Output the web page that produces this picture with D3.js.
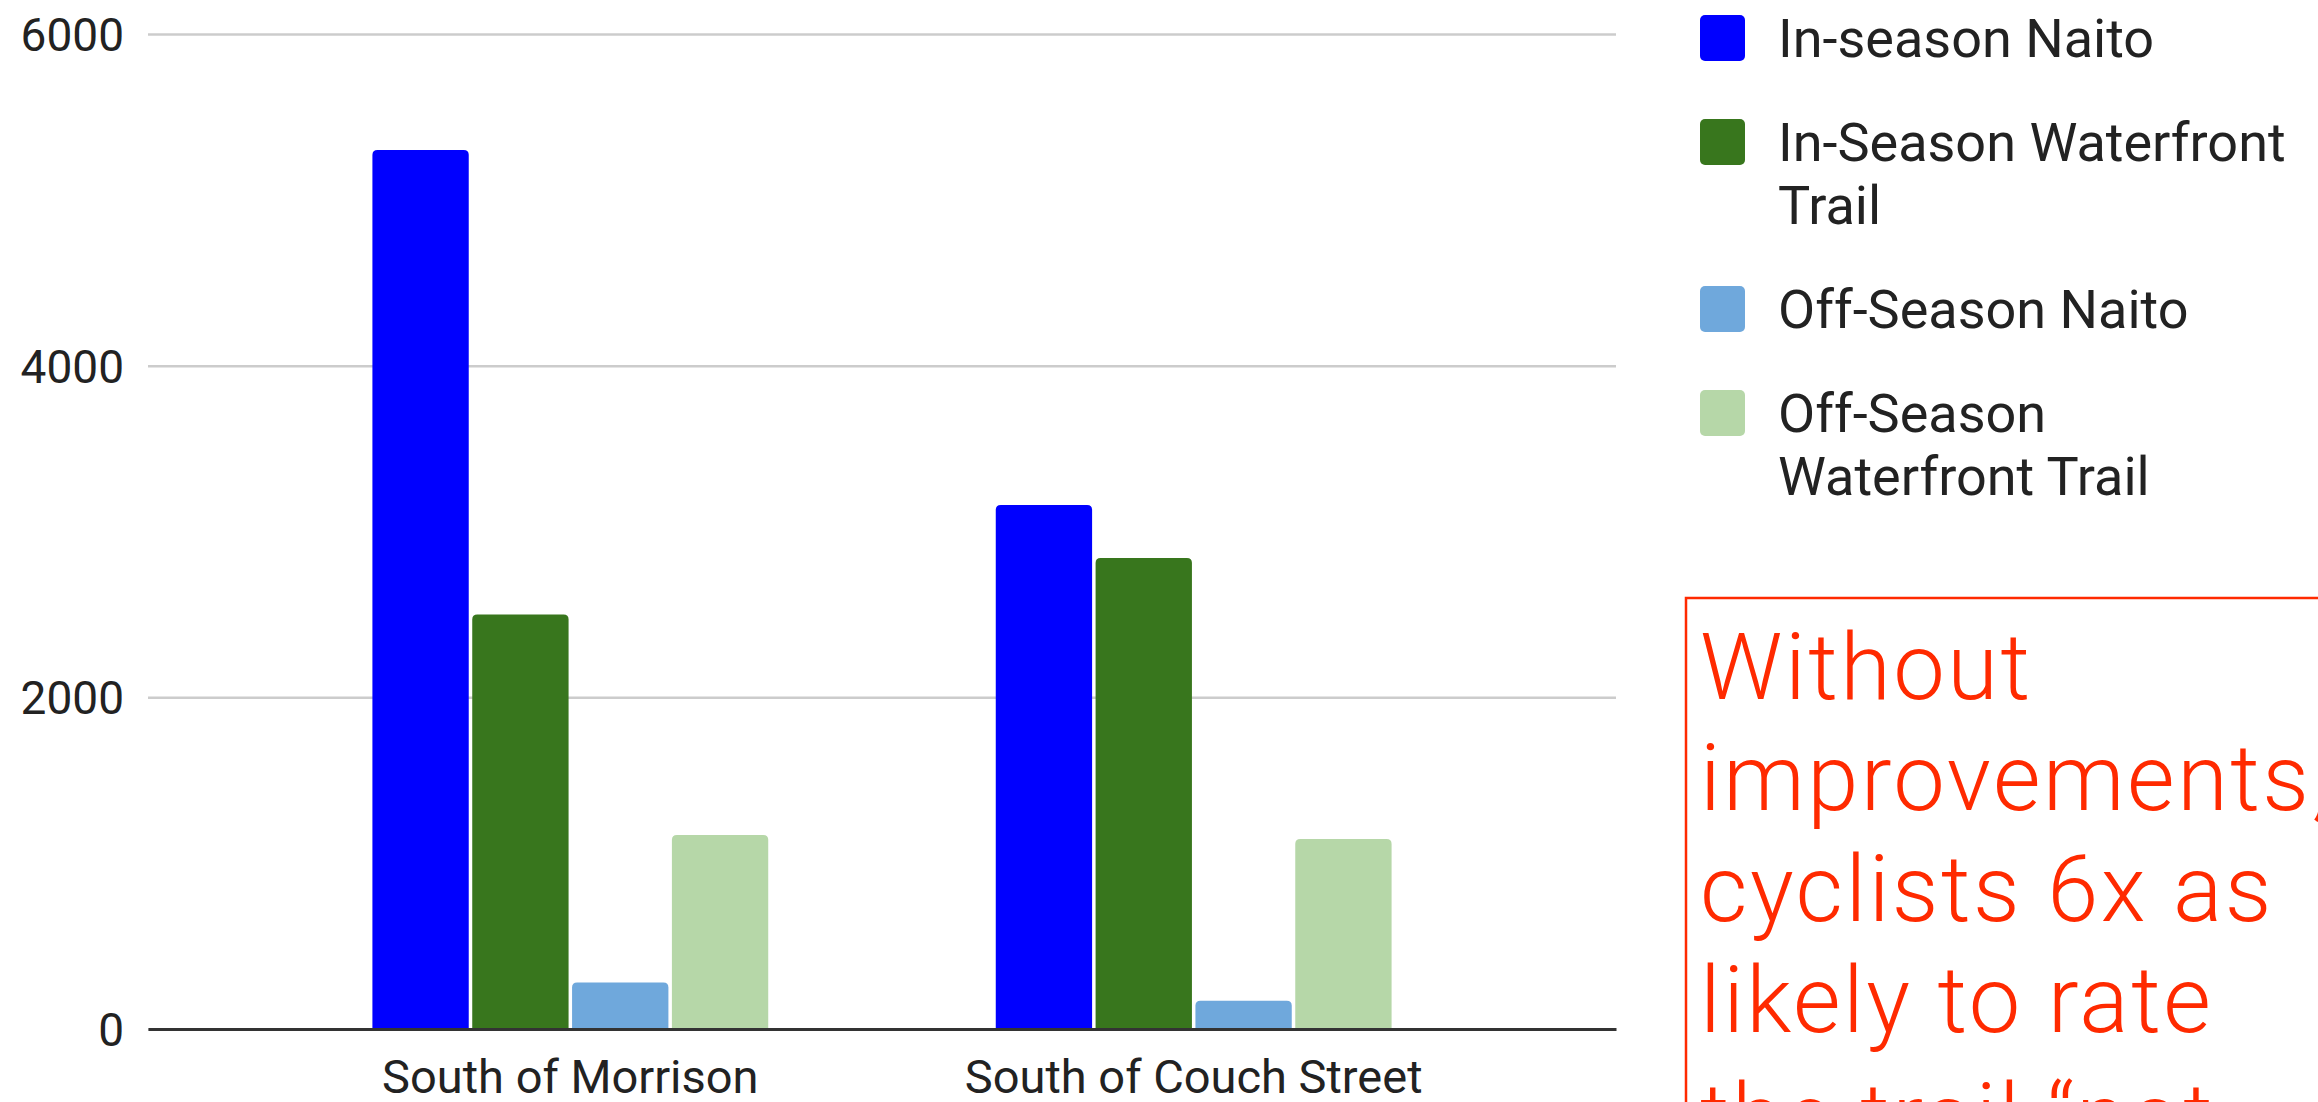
<html>
<head>
    <title>Naito vs Waterfront Trail counts</title>
    <script src="https://d3js.org/d3.v7.min.js" charset="utf-8"></script>
    <style>
        body { margin: 0; background: #fff; }
    </style>
</head>
<body>
<script>

    const width = 2318;
    const height = 1102;

    // data
    const categories = ["South of Morrison", "South of Couch Street"];
    const seriesNames = ["In-season Naito", "In-Season Waterfront Trail", "Off-Season Naito", "Off-Season Waterfront Trail"];
    const inSeasonNaito = [5300, 3160];
    const inSeasonTrail = [2500, 2840];
    const offSeasonNaito = [280, 170];
    const offSeasonTrail = [1170, 1145];
    const yTicks = [0, 2000, 4000, 6000];
    const colors = ["#0000ff", "#38761d", "#6fa8dc", "#b6d7a8"];
    const legendLines = [["In-season Naito"], ["In-Season Waterfront", "Trail"], ["Off-Season Naito"], ["Off-Season", "Waterfront Trail"]];
    const noteLines = ["Without", "improvements,", "cyclists 6x as", "likely to rate", "the trail \u201cnot"];

    const series = [inSeasonNaito, inSeasonTrail, offSeasonNaito, offSeasonTrail];

    const plot = {left: 148, right: 1616, top: 34, bottom: 1029};

    const svg = d3.select("body").append("svg")
        .attr("width", width)
        .attr("height", height);

    const x0 = d3.scaleBand()
        .domain(categories)
        .range([plot.left, plot.right])
        .paddingInner(0.365)
        .paddingOuter(0.36);

    const x1 = d3.scaleBand()
        .domain(d3.range(seriesNames.length))
        .range([0, x0.bandwidth()])
        .paddingInner(0.035);

    const y = d3.scaleLinear()
        .domain([0, 6000])
        .range([plot.bottom, plot.top]);

    // grid + y labels
    const yAxis = svg.append("g")
        .attr("transform", `translate(${plot.left},0)`)
        .call(d3.axisLeft(y).tickValues(yTicks).tickSize(-(plot.right - plot.left)).tickPadding(24).tickFormat(d3.format("d")));
    yAxis.select(".domain").remove();
    yAxis.selectAll(".tick line")
        .attr("stroke", "#cccccc")
        .attr("stroke-width", 2.5);
    yAxis.selectAll(".tick text")
        .attr("font-family", "Roboto, sans-serif")
        .attr("font-size", 46)
        .attr("fill", "#222")
        .attr("dy", "0.36em");

    // bars, rounded at the top only
    const barPath = (x, yTop, w, yBase, r) => {
        r = Math.min(r, (yBase - yTop) / 2);
        return `M${x},${yBase}V${yTop + r}Q${x},${yTop} ${x + r},${yTop}H${x + w - r}Q${x + w},${yTop} ${x + w},${yTop + r}V${yBase}Z`;
    };

    const groups = svg.append("g")
        .selectAll("g")
        .data(categories)
        .join("g")
        .attr("transform", d => `translate(${x0(d)},0)`);

    groups.selectAll("path")
        .data((d, i) => series.map((s, k) => ({k: k, v: s[i]})))
        .join("path")
        .attr("fill", d => colors[d.k])
        .attr("d", d => barPath(x1(d.k), y(d.v), x1.bandwidth(), y(0), 5));

    // baseline + category labels
    const xAxis = svg.append("g")
        .attr("transform", `translate(0,${plot.bottom})`)
        .call(d3.axisBottom(x0).tickSize(0).tickPadding(31));
    xAxis.select(".domain")
        .attr("stroke", "#333")
        .attr("stroke-width", 3);
    xAxis.selectAll(".tick text")
        .attr("font-family", "Roboto, sans-serif")
        .attr("font-size", 47)
        .attr("fill", "#222");

    // legend
    const legend = svg.append("g");
    let baseY = 57;
    legendLines.forEach((lines, i) => {
        legend.append("rect")
            .attr("x", 1700)
            .attr("y", baseY - 42)
            .attr("width", 45)
            .attr("height", 46)
            .attr("rx", 5)
            .attr("fill", colors[i]);
        const t = legend.append("text")
            .attr("x", 1778)
            .attr("y", baseY)
            .attr("font-family", "Roboto, sans-serif")
            .attr("font-size", 54)
            .attr("fill", "#222");
        lines.forEach((ln, j) => {
            t.append("tspan")
                .attr("x", 1778)
                .attr("y", baseY + j * 63)
                .text(ln);
        });
        baseY += 104 + (lines.length - 1) * 63;
    });

    // red note box, runs off the right and bottom edges
    svg.append("rect")
        .attr("x", 1686)
        .attr("y", 598)
        .attr("width", 800)
        .attr("height", 700)
        .attr("fill", "none")
        .attr("stroke", "#ff2a00")
        .attr("stroke-width", 2.5);

    svg.append("g")
        .selectAll("text")
        .data(noteLines)
        .join("text")
        .attr("x", 1700)
        .attr("y", (d, i) => 699 + i * 111 + (i === 4 ? 6 : 0))
        .attr("font-family", "'Helvetica Neue', Roboto, sans-serif")
        .attr("font-weight", 300)
        .attr("font-size", 92)
        .attr("letter-spacing", 2.5)
        .attr("fill", "#ff2a00")
        .text(d => d);

</script>
</body>
</html>
